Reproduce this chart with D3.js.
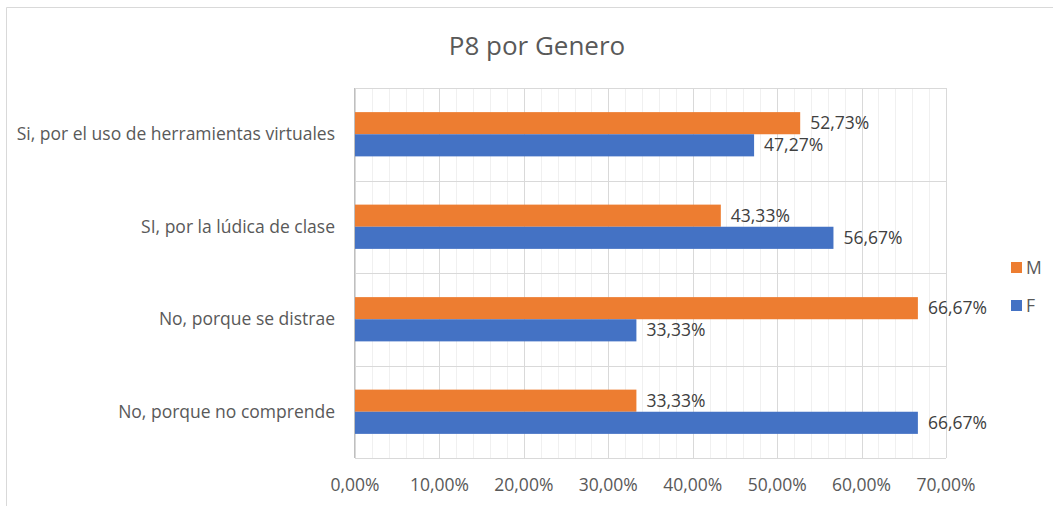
<!DOCTYPE html>
<html>
<head>
<meta charset="utf-8">
<style>
  body { margin: 0; background: #fff; }
  svg { display: block; font-family: "Open Sans", "Noto Sans", sans-serif; }
</style>
</head>
<body>
<svg width="1053" height="506"></svg>
<script src="https://cdnjs.cloudflare.com/ajax/libs/d3/7.8.5/d3.min.js"></script>
<script>

var categories = [
	"Si, por el uso de herramientas virtuales",
	"SI, por la lúdica de clase",
	"No, porque se distrae",
	"No, porque no comprende"
];
var seriesNames = ["M", "F"];
var valuesM = [52.73, 43.33, 66.67, 33.33];
var valuesF = [47.27, 56.67, 33.33, 66.67];
var xTicks = [0, 10, 20, 30, 40, 50, 60, 70];

var colors = { M: "#ED7D31", F: "#4472C4" };

var width = 1053;
var height = 506;
var margin = { top: 88, right: 107, bottom: 48, left: 355 };
var fs = 17.5;

var svg = d3.select("svg");

// chart frame (only left and top edges fall inside the picture)
svg.append("path")
	.attr("d", "M6.5," + height + "V7.5H" + width)
	.attr("fill", "none")
	.attr("stroke", "#d9d9d9");

svg.append("text")
	.attr("x", 537).attr("y", 55)
	.attr("text-anchor", "middle")
	.attr("font-size", 26)
	.attr("fill", "#595959")
	.text("P8 por Genero");

// scales in page coordinates
var x = d3.scaleLinear().domain([0, 70]).range([margin.left, width - margin.right]);
var y = d3.scaleBand().domain(categories).range([margin.top, height - margin.bottom]);
var ySub = d3.scaleBand().domain(seriesNames).range([0, y.bandwidth()]).paddingOuter(1.09);
var plotTop = margin.top, plotBottom = height - margin.bottom;

function pct(v){ return v.toFixed(2).replace(".", ",") + "%"; }

// minor gridlines
svg.append("g")
	.selectAll("line")
	.data(d3.range(0, 70.01, 2))
	.join("line")
	.attr("x1", function(d){ return Math.round(x(d)) + 0.5; })
	.attr("x2", function(d){ return Math.round(x(d)) + 0.5; })
	.attr("y1", plotTop).attr("y2", plotBottom)
	.attr("stroke", "#f0f0f0");

// major gridlines
svg.append("g")
	.selectAll("line")
	.data(xTicks)
	.join("line")
	.attr("x1", function(d){ return Math.round(x(d)) + 0.5; })
	.attr("x2", function(d){ return Math.round(x(d)) + 0.5; })
	.attr("y1", plotTop).attr("y2", plotBottom)
	.attr("stroke", "#d9d9d9");

// category dividers
svg.append("g")
	.selectAll("line")
	.data(d3.range(categories.length + 1))
	.join("line")
	.attr("x1", x(0)).attr("x2", x(70))
	.attr("y1", function(i){ return Math.round(plotTop + i * y.step()) + 0.5; })
	.attr("y2", function(i){ return Math.round(plotTop + i * y.step()) + 0.5; })
	.attr("stroke", "#d9d9d9");

// left axis line
svg.append("line")
	.attr("x1", Math.round(x(0)) - 0.5).attr("x2", Math.round(x(0)) - 0.5)
	.attr("y1", plotTop).attr("y2", plotBottom)
	.attr("stroke", "#bfbfbf");

var points = [];
categories.forEach(function(c, i){
	points.push({ cat: c, s: "M", v: valuesM[i] });
	points.push({ cat: c, s: "F", v: valuesF[i] });
});

svg.append("g")
	.selectAll("rect")
	.data(points)
	.join("rect")
	.attr("x", x(0))
	.attr("y", function(d){ return y(d.cat) + ySub(d.s); })
	.attr("width", function(d){ return x(d.v) - x(0); })
	.attr("height", ySub.bandwidth())
	.attr("fill", function(d){ return colors[d.s]; });

svg.append("g")
	.selectAll("text")
	.data(points)
	.join("text")
	.attr("x", function(d){ return x(d.v) + 10; })
	.attr("y", function(d){ return y(d.cat) + ySub(d.s) + ySub.bandwidth() / 2; })
	.attr("dy", "0.35em")
	.attr("font-size", fs)
	.attr("fill", "#404040")
	.text(function(d){ return pct(d.v); });

// category labels
svg.append("g")
	.selectAll("text")
	.data(categories)
	.join("text")
	.attr("x", x(0) - 20)
	.attr("y", function(d){ return y(d) + y.bandwidth() / 2; })
	.attr("dy", "0.35em")
	.attr("text-anchor", "end")
	.attr("font-size", fs)
	.attr("fill", "#595959")
	.text(function(d){ return d; });

// value tick labels
svg.append("g")
	.selectAll("text")
	.data(xTicks)
	.join("text")
	.attr("x", function(d){ return x(d); })
	.attr("y", plotBottom + 21)
	.attr("dy", "0.71em")
	.attr("text-anchor", "middle")
	.attr("font-size", fs)
	.attr("fill", "#595959")
	.text(pct);

// legend
var legend = svg.append("g")
	.selectAll("g")
	.data(seriesNames)
	.join("g");
legend.append("rect")
	.attr("x", 1011)
	.attr("y", function(d, i){ return 262 + i * 38; })
	.attr("width", 11).attr("height", 11)
	.attr("fill", function(d){ return colors[d]; });
legend.append("text")
	.attr("x", 1026)
	.attr("y", function(d, i){ return 267.5 + i * 38; })
	.attr("dy", "0.35em")
	.attr("font-size", fs)
	.attr("fill", "#595959")
	.text(function(d){ return d; });

</script>
</body>
</html>
